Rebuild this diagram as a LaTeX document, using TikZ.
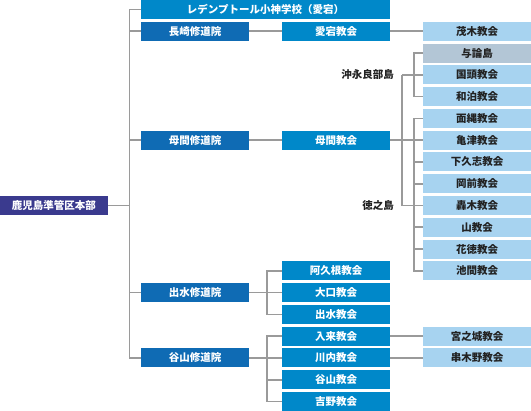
\documentclass[tikz,border=0pt]{standalone}
\usepackage{fontspec}
\setmainfont{Noto Sans CJK JP}
\definecolor{cRoot}{HTML}{3A3A8E}
\definecolor{cDark}{HTML}{0F6BB4}
\definecolor{cMid}{HTML}{0088C9}
\definecolor{cLight}{HTML}{A7D3F0}
\definecolor{cGray}{HTML}{B3C6D6}
\definecolor{cLine}{HTML}{9A9A9A}
\definecolor{cText}{HTML}{222222}
\begin{document}
\begin{tikzpicture}[x=1pt,y=-1pt,
  box/.style={minimum width=108pt, minimum height=19pt, inner sep=0pt, outer sep=0pt,
    font=\fontsize{10.5}{12}\selectfont\bfseries},
  rootbox/.style={box, fill=cRoot, text=white},
  darkbox/.style={box, fill=cDark, text=white},
  midbox/.style={box, fill=cMid, text=white},
  lightbox/.style={box, fill=cLight, text=cText},
  graybox/.style={box, fill=cGray, text=cText},
  lab/.style={inner sep=0pt, anchor=east, text=cText, font=\fontsize{10.5}{12}\selectfont\bfseries},
  conn/.style={draw=cLine, line width=1.6pt}]
\useasboundingbox (0,0) rectangle (531,411);
% junction x positions
\coordinate (T) at (129.5,0);
\coordinate (A) at (402,0);
\coordinate (B) at (414,0);
\coordinate (C) at (267,0);
% nodes
\node[midbox, minimum width=249pt] (top) at (265.5,9.5) {レデンプトール小神学校（愛宕）};
\node[rootbox] (root) at (54,205.52) {鹿児島準管区本部};
\node[darkbox] (nagaS) at (195,31.28) {長崎修道院};
\node[darkbox] (hmS) at (195,140.18) {母間修道院};
\node[darkbox] (izS) at (195,292.64) {出水修道院};
\node[darkbox] (taS) at (195,357.98) {谷山修道院};
\node[midbox] (atago) at (336,31.28) {愛宕教会};
\node[midbox] (hmK) at (336,140.18) {母間教会};
\node[midbox] (akune) at (336,270.86) {阿久根教会};
\node[midbox] (ookuchi) at (336,292.64) {大口教会};
\node[midbox] (izK) at (336,314.42) {出水教会};
\node[midbox] (iriki) at (336,336.2) {入来教会};
\node[midbox] (sendai) at (336,357.98) {川内教会};
\node[midbox] (taK) at (336,379.76) {谷山教会};
\node[midbox] (yoshino) at (336,401.54) {吉野教会};
\node[lightbox] (mogi) at (477,31.28) {茂木教会};
\node[graybox] (yoron) at (477,53.06) {与論島};
\node[lightbox] (kunigami) at (477,74.84) {国頭教会};
\node[lightbox] (wadomari) at (477,96.62) {和泊教会};
\node[lightbox] (menawa) at (477,118.4) {面縄教会};
\node[lightbox] (kametsu) at (477,140.18) {亀津教会};
\node[lightbox] (shimokushi) at (477,161.96) {下久志教会};
\node[lightbox] (okazen) at (477,183.74) {岡前教会};
\node[lightbox] (todoroki) at (477,205.52) {轟木教会};
\node[lightbox] (yama) at (477,227.3) {山教会};
\node[lightbox] (ketoku) at (477,249.08) {花徳教会};
\node[lightbox] (ikema) at (477,270.86) {池間教会};
\node[lightbox] (miyanojo) at (477,336.2) {宮之城教会};
\node[lightbox] (kushikino) at (477,357.98) {串木野教会};
\node[lab] (okino) at (394,74.84) {沖永良部島};
\node[lab] (toku) at (394,205.52) {徳之島};
% trunk
\draw[conn] (top.west) -- (top.west -| T) -- (taS.west -| T) -- (taS.west);
\draw[conn] (root.east) -- (root.east -| T);
\draw[conn] (nagaS.west) -- (nagaS.west -| T);
\draw[conn] (hmS.west) -- (hmS.west -| T);
\draw[conn] (izS.west) -- (izS.west -| T);
% Nagasaki
\draw[conn] (nagaS.east) -- (atago.west);
\draw[conn] (atago.east) -- (mogi.west);
% Boma
\draw[conn] (hmS.east) -- (hmK.west);
\draw[conn] (hmK.east) -- (kametsu.west);
\draw[conn] (kunigami.west -| A) -- (todoroki.west -| A);
\draw[conn] (kunigami.west -| A) -- (kunigami.west);
\draw[conn] (todoroki.west -| A) -- (todoroki.west);
\draw[conn] (yoron.west) -- (yoron.west -| B) -- (wadomari.west -| B) -- (wadomari.west);
\draw[conn] (menawa.west) -- (menawa.west -| B) -- (ikema.west -| B) -- (ikema.west);
\foreach \n in {shimokushi,okazen,yama,ketoku}
  \draw[conn] (\n.west) -- (\n.west -| B);
% Izumi
\draw[conn] (akune.west) -- (akune.west -| C) -- (izK.west -| C) -- (izK.west);
\draw[conn] (izS.east) -- (ookuchi.west);
% Taniyama
\draw[conn] (iriki.west) -- (iriki.west -| C) -- (yoshino.west -| C) -- (yoshino.west);
\draw[conn] (taS.east) -- (sendai.west);
\draw[conn] (taK.west) -- (taK.west -| C);
\draw[conn] (iriki.east) -- (miyanojo.west);
\draw[conn] (sendai.east) -- (kushikino.west);
\end{tikzpicture}
\end{document}
